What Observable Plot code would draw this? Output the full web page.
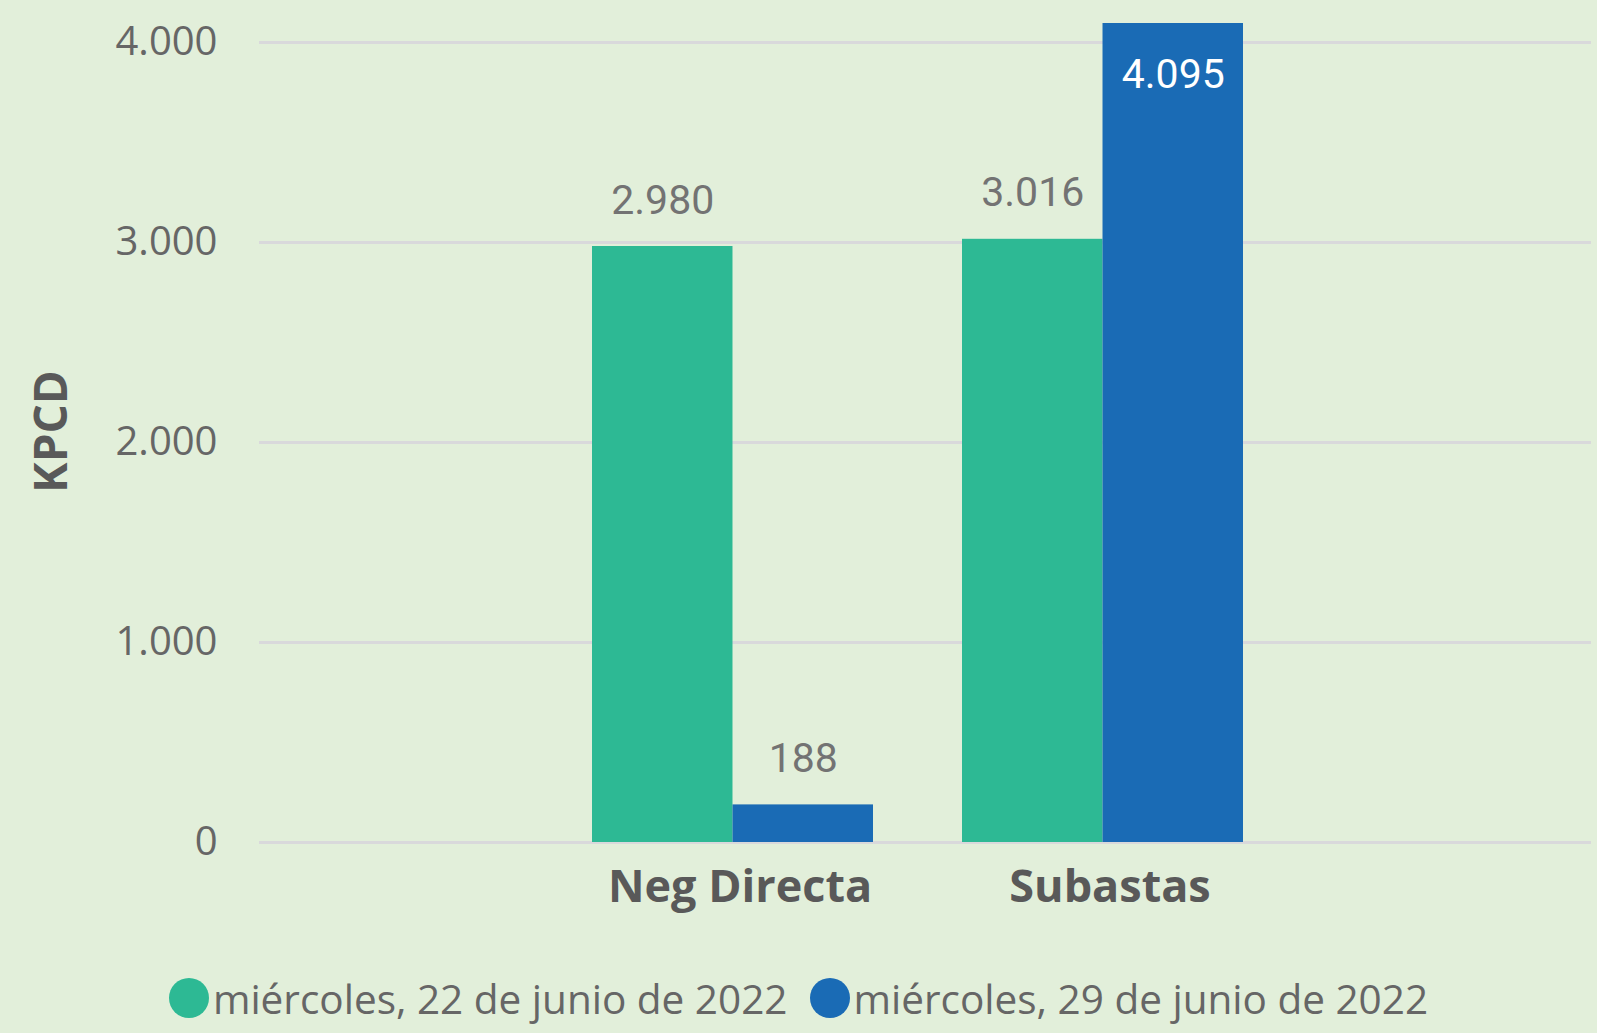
<!DOCTYPE html>
<html><head><meta charset="utf-8">
<script src="https://cdn.jsdelivr.net/npm/d3@7"></script>
<script src="https://cdn.jsdelivr.net/npm/@observablehq/plot@0.6"></script>
<style>
html,body{margin:0;padding:0;background:#E2EFDA;}
#chart svg{display:block;}
.legend{display:flex;justify-content:center;align-items:center;height:60px;margin-top:28px;font-family:"Open Sans",sans-serif;font-size:40.5px;color:#666;white-space:nowrap;}
.item{display:flex;align-items:center;margin:0 11px;}
.dot{width:40px;height:40px;border-radius:50%;margin-right:4px;}
</style></head><body>
<div id="chart"></div>
<div class="legend" id="legend"></div>
<script>
const categories = ["Neg Directa", "Subastas"];
const seriesNames = ["miércoles, 22 de junio de 2022", "miércoles, 29 de junio de 2022"];
const values22 = [2980, 3016];
const values29 = [188, 4095];
const yTicks = [0, 1000, 2000, 3000, 4000];
const seriesColors = ["#2DB994", "#1A6BB5"];

const fmt = d3.formatLocale({decimal: ",", thousands: ".", grouping: [3], currency: ["", ""]}).format(",d");
const rows22 = categories.map((c, i) => ({category: c, value: values22[i]}));
const rows29 = categories.map((c, i) => ({category: c, value: values29[i]}));
const yMax = yTicks[yTicks.length - 1];

const xRange = [503, 1332], xPad = 0.2405;
const bw = d3.scaleBand().domain(categories).range(xRange).padding(xPad).bandwidth();
const half = bw / 2;

const labelFont = "Roboto, 'DejaVu Sans', sans-serif";
function labels(rows, dx) {
  return [
    Plot.text(rows.filter(d => d.value <= yMax), {x: "category", y: "value", text: d => fmt(d.value), dx, dy: -46, fill: "#737373", fontSize: 41, fontFamily: labelFont}),
    Plot.text(rows.filter(d => d.value > yMax), {x: "category", y: "value", text: d => fmt(d.value), dx, dy: 51, fill: "#ffffff", fontSize: 41, fontFamily: labelFont})
  ];
}

const chart = Plot.plot({
  width: 1597, height: 940,
  marginLeft: 259, marginRight: 6, marginTop: 42, marginBottom: 98,
  style: {background: "transparent", fontFamily: "'Open Sans', sans-serif", overflow: "visible"},
  x: {domain: categories, range: xRange, padding: xPad},
  y: {domain: [0, yMax]},
  marks: [
    Plot.ruleY(yTicks, {stroke: "#D9D9DB", strokeWidth: 3}),
    Plot.barY(rows22, {x: "category", y: "value", fill: seriesColors[0], insetRight: half}),
    Plot.barY(rows29, {x: "category", y: "value", fill: seriesColors[1], insetLeft: half}),
    ...labels(rows22, -half / 2),
    ...labels(rows29, half / 2),
    Plot.axisY(yTicks, {tickSize: 0, tickPadding: 42, fontSize: 40, tickFormat: fmt, fill: "#666", label: null}),
    Plot.axisX({tickSize: 0, tickPadding: 28, dx: 7, fontSize: 45, fontWeight: "bold", fill: "#595959", label: null}),
    Plot.text(["KPCD"], {frameAnchor: "left", textAnchor: "middle", lineAnchor: "middle", rotate: -90, dx: -207, dy: -11, fontSize: 46, fontWeight: "bold", fill: "#595959"})
  ]
});
document.getElementById("chart").appendChild(chart);

const legend = document.getElementById("legend");
seriesNames.forEach((name, i) => {
  const item = document.createElement("div");
  item.className = "item";
  const dot = document.createElement("span");
  dot.className = "dot";
  dot.style.background = seriesColors[i];
  const txt = document.createElement("span");
  txt.textContent = name;
  item.appendChild(dot);
  item.appendChild(txt);
  legend.appendChild(item);
});
</script>
</body></html>
